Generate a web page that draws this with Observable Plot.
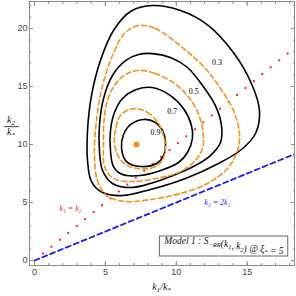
<!DOCTYPE html>
<html><head><meta charset="utf-8">
<script src="https://cdn.jsdelivr.net/npm/d3@7"></script>
<script src="https://cdn.jsdelivr.net/npm/@observablehq/plot@0.6"></script>
<style>body{margin:0;background:#fff;} #chart{width:296px;height:296px;}</style>
</head><body><div id="chart"></div>
<script>
// contour curves: [k1/k*, k2/k*]
const black09 = [[7.69,12.16],[8.53,11.90],[9.03,11.21],[9.24,10.17],[9.10,9.05],[8.60,8.36],[7.48,8.10],[6.49,8.53],[6.14,9.66],[6.28,10.86],[6.77,11.72]];
const black07 = [[8.30,14.91],[9.59,14.22],[10.51,13.10],[11.07,11.64],[11.14,10.52],[10.79,9.31],[10.16,8.45],[8.89,7.76],[7.48,7.33],[6.21,7.41],[5.57,8.10],[5.36,9.48],[5.36,11.21],[5.64,12.76],[6.21,13.97],[7.19,14.74]];
const black05 = [[8.30,17.84],[9.59,17.50],[10.79,16.64],[11.85,15.09],[12.76,13.36],[13.19,11.64],[13.12,10.17],[12.41,9.05],[11.21,8.10],[9.59,7.24],[8.18,6.64],[6.77,6.29],[5.50,6.64],[4.80,7.76],[4.58,9.48],[4.58,11.64],[4.87,13.97],[5.50,15.95],[6.42,17.24],[7.33,17.76]];
const black03 = [[8.32,21.98],[10.30,21.55],[12.27,20.26],[14.03,17.93],[15.30,15.26],[15.87,12.93],[15.59,10.95],[14.60,9.57],[12.98,8.36],[10.65,7.07],[8.18,6.12],[6.21,5.60],[4.80,5.86],[4.02,6.81],[3.74,8.62],[3.74,11.21],[4.02,14.22],[4.65,17.24],[5.57,19.83],[6.77,21.47]];
const orange3 = [[6.89,13.08],[7.95,12.78],[8.77,11.78],[9.12,10.63],[9.24,9.74],[9.01,8.62],[8.41,8.04],[7.48,7.91],[6.54,8.19],[5.94,8.91],[5.64,10.06],[5.71,11.21],[6.06,12.50]];
const orange2 = [[7.26,16.38],[8.53,16.12],[10.16,15.00],[11.35,13.19],[11.85,11.38],[11.85,9.66],[11.21,8.45],[10.16,7.59],[8.53,7.07],[6.91,6.81],[5.57,7.07],[4.94,8.10],[4.87,9.91],[4.94,12.50],[5.36,14.48],[6.21,15.86]];
const orange1 = [[7.33,20.26],[8.53,20.00],[10.51,18.28],[12.06,16.55],[13.12,14.83],[14.03,12.93],[14.46,10.95],[14.32,9.48],[13.61,7.93],[12.20,6.64],[10.30,5.78],[8.18,5.26],[6.42,5.09],[5.08,5.60],[4.44,6.90],[4.23,9.05],[4.37,12.07],[4.80,15.09],[5.50,17.67],[6.35,19.57]];
const contourLevels = ["0.9","0.7","0.5","0.3"];
const labelK1 = [8.54, 9.71, 11.24, 12.88];
const labelK2 = [11.06, 12.84, 14.6, 17.1];
const peakK1 = [7.2];
const peakK2 = [10.0];
// k1 = k2 dotted diagonal samples
const diagK = [0.6,1.19,1.79,2.38,2.98,3.57,4.17,4.76,5.36,5.95,6.55,7.14,7.74,8.33,8.93,9.52,10.12,10.71,11.31,11.9,12.5,13.09,13.69,14.28,14.88,15.47,16.07,16.66,17.26,17.85,18.45];
// k1 = 2 k2 line
const blueK1 = [0, 18.4];
const blueK2 = [0, 9.2];
const xMajor = [0,5,10,15];
const xMinor = [0,1,2,3,4,5,6,7,8,9,10,11,12,13,14,15,16,17,18];
const yMajor = [0,5,10,15,20];
const yMinor = [0,1,2,3,4,5,6,7,8,9,10,11,12,13,14,15,16,17,18,19,20,21,22];

const toRows = (pts, level) => pts.map(([x,y]) => ({x, y, level}));
const blackRows = [...toRows(black09,"0.9"),...toRows(black07,"0.7"),...toRows(black05,"0.5"),...toRows(black03,"0.3")];
const orangeRows = [...toRows(orange3,"a"),...toRows(orange2,"b"),...toRows(orange1,"c")];
const labels = contourLevels.map((t,i)=>({t, x: labelK1[i], y: labelK2[i]}));
const blueRows = blueK1.map((x,i)=>({x, y: blueK2[i]}));
const peak = peakK1.map((x,i)=>({x, y: peakK2[i]}));

const ORANGE = "#f7911e";
const FRAME = "#8a8a8a";
const serif = "'Liberation Serif', 'DejaVu Serif', serif";

const tickAxis = (fn, anchor, ticks, size) => fn(ticks, {anchor, tickSize: size, tickFormat: () => "", stroke: FRAME, label: null});

const plot = Plot.plot({
  width: 296, height: 296,
  marginLeft: 29, marginRight: 2, marginTop: 1, marginBottom: 31,
  x: {domain: [-0.353, 18.34]},
  y: {domain: [-0.43, 22.33]},
  style: {background: "white", fontFamily: "'Liberation Sans', sans-serif", fontSize: "9px"},
  marks: [
    Plot.line(blueRows, {x: "x", y: "y", stroke: "#1a1aff", strokeWidth: 1.8, strokeDasharray: "5,3.5", clip: true}),
    Plot.dot(diagK, {x: d => d, y: d => d, r: 1.1, symbol: "square", fill: "#ff1a1a", clip: true}),
    Plot.line(blackRows, {x: "x", y: "y", z: "level", curve: "catmull-rom-closed", stroke: "black", strokeWidth: 1.6}),
    Plot.line(orangeRows, {x: "x", y: "y", z: "level", curve: "catmull-rom-closed", stroke: ORANGE, strokeWidth: 1.6, strokeDasharray: "5,3"}),
    Plot.dot(peak, {x: "x", y: "y", r: 3, fill: ORANGE}),
    Plot.text(labels, {x: "x", y: "y", text: "t", fontFamily: serif, fontSize: 8, fill: "black"}),
    Plot.text(["k\u2081 = k\u2082"], {x: [2.54], y: [4.48], fontFamily: serif, fontStyle: "italic", fontSize: 8, fill: "#ff2020"}),
    Plot.text(["k\u2081 = 2k\u2082"], {x: [12.9], y: [5.0], fontFamily: serif, fontStyle: "italic", fontSize: 8, fill: "#2a2aff"}),
    Plot.text(["LEGEND"], {frameAnchor: "bottom-right", dx: -11, dy: -21.5, textAnchor: "end", fontFamily: serif, fontStyle: "italic", fontSize: 9.5, fill: "#111", className: "legendtxt"}),
    Plot.frame({stroke: FRAME}),
    Plot.axisX(xMajor, {anchor: "bottom", tickSize: 0, tickPadding: 3, fill: "#444", label: null}),
    Plot.axisY(yMajor, {anchor: "left", tickSize: 0, tickPadding: 2, fill: "#444", label: null}),
    tickAxis(Plot.axisX, "bottom", xMajor, -4), tickAxis(Plot.axisX, "bottom", xMinor, -2),
    tickAxis(Plot.axisX, "top", xMajor, -4), tickAxis(Plot.axisX, "top", xMinor, -2),
    tickAxis(Plot.axisY, "left", yMajor, -4), tickAxis(Plot.axisY, "left", yMinor, -2),
    tickAxis(Plot.axisY, "right", yMajor, -4), tickAxis(Plot.axisY, "right", yMinor, -2)
  ]
});
document.getElementById("chart").append(plot);

const svg = d3.select(plot);
// legend text with subscripts
const lt = svg.select(".legendtxt text");
lt.text(null);
const sub = (s) => { lt.append("tspan").attr("font-size", "6.5px").attr("dy", "2.5").text(s); lt.append("tspan").attr("dy", "-2.5").text(""); };
lt.append("tspan").text("Model 1 : S");
sub("\u2212RR");
lt.append("tspan").text("(k");
sub("1");
lt.append("tspan").text(", k");
sub("2");
lt.append("tspan").text(") @ \u03be");
sub("*");
lt.append("tspan").text(" = 5");
{
  const sr = plot.getBoundingClientRect();
  const br = lt.node().getBoundingClientRect();
  svg.insert("rect", ".legendtxt")
    .attr("x", br.left - sr.left - 4).attr("y", br.top - sr.top)
    .attr("width", br.width + 8).attr("height", br.height)
    .attr("fill", "white").attr("stroke", "#666").attr("stroke-width", 1);
}
// axis labels
const xs = plot.scale("x"), ys = plot.scale("y");
const cx = (xs.range[0] + xs.range[1]) / 2;
const xl = svg.append("text").attr("x", cx).attr("y", 290).attr("text-anchor", "middle")
  .attr("font-family", serif).attr("font-style", "italic").attr("font-size", "10px").attr("fill", "#111");
xl.append("tspan").text("k");
xl.append("tspan").attr("font-size", "7px").attr("dy", "2").text("1");
xl.append("tspan").attr("dy", "-2").text("/k");
xl.append("tspan").attr("font-size", "7px").attr("dy", "2").text("*");
const cy = ys.apply(11.5);
const yn = svg.append("text").attr("x", 11).attr("y", cy - 4).attr("text-anchor", "middle")
  .attr("font-family", serif).attr("font-style", "italic").attr("font-size", "10px").attr("fill", "#111");
yn.append("tspan").text("k");
yn.append("tspan").attr("font-size", "7px").attr("dy", "2").text("2");
svg.append("line").attr("x1", 4).attr("x2", 19).attr("y1", cy).attr("y2", cy).attr("stroke", "#111").attr("stroke-width", 0.8);
const yd = svg.append("text").attr("x", 11).attr("y", cy + 8).attr("text-anchor", "middle")
  .attr("font-family", serif).attr("font-style", "italic").attr("font-size", "10px").attr("fill", "#111");
yd.append("tspan").text("k");
yd.append("tspan").attr("font-size", "7px").attr("dy", "2").text("*");
</script>
</body></html>
